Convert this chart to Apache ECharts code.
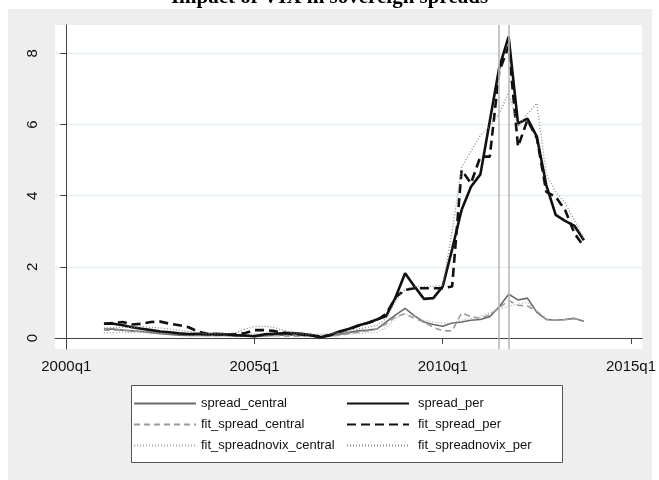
<!DOCTYPE html>
<html>
<head>
<meta charset="utf-8">
<script src="https://cdn.jsdelivr.net/npm/echarts@6/dist/echarts.min.js"></script>
<style>
html,body{margin:0;padding:0;background:#fff;}
#chart{width:659px;height:480px;}
</style>
</head>
<body>
<div id="chart"></div>
<script>
// ---- data ----
const quarters = ['2001q1','2001q2','2001q3','2001q4','2002q1','2002q2','2002q3','2002q4',
  '2003q1','2003q2','2003q3','2003q4','2004q1','2004q2','2004q3','2004q4',
  '2005q1','2005q2','2005q3','2005q4','2006q1','2006q2','2006q3','2006q4',
  '2007q1','2007q2','2007q3','2007q4','2008q1','2008q2','2008q3','2008q4',
  '2009q1','2009q2','2009q3','2009q4','2010q1','2010q2','2010q3','2010q4',
  '2011q1','2011q2','2011q3','2011q4','2012q1','2012q2','2012q3','2012q4',
  '2013q1','2013q2','2013q3','2013q4'];

const spread_central = [0.25,0.25,0.22,0.20,0.18,0.15,0.12,0.10,0.08,0.07,0.08,0.07,0.08,0.07,0.06,0.05,
  0.04,0.06,0.07,0.08,0.08,0.07,0.05,0.03,0.06,0.10,0.15,0.20,0.22,0.25,0.45,0.65,
  0.83,0.62,0.45,0.38,0.33,0.42,0.45,0.50,0.52,0.60,0.88,1.23,1.07,1.12,0.72,0.52,
  0.50,0.52,0.55,0.47];
const spread_per = [0.40,0.40,0.36,0.30,0.26,0.22,0.18,0.16,0.13,0.11,0.12,0.10,0.12,0.10,0.08,0.07,
  0.05,0.10,0.12,0.13,0.14,0.12,0.08,0.02,0.08,0.18,0.25,0.35,0.42,0.52,0.62,1.15,
  1.82,1.45,1.10,1.12,1.45,2.50,3.60,4.25,4.60,6.10,7.60,8.47,6.03,6.17,5.66,4.30,
  3.46,3.29,3.15,2.75];
const fit_spread_central = [0.22,0.22,0.22,0.20,0.18,0.18,0.16,0.14,0.12,0.10,0.08,0.07,0.07,0.07,0.06,0.06,
  0.08,0.08,0.07,0.06,0.05,0.05,0.04,0.03,0.05,0.08,0.12,0.16,0.20,0.25,0.40,0.60,
  0.68,0.55,0.45,0.30,0.20,0.20,0.70,0.60,0.55,0.65,0.85,1.05,0.92,0.90,0.75,0.52,
  0.50,0.52,0.55,0.47];
const fit_spread_per = [0.40,0.42,0.45,0.38,0.40,0.45,0.46,0.40,0.36,0.30,0.18,0.12,0.10,0.10,0.10,0.14,
  0.22,0.22,0.20,0.15,0.12,0.10,0.08,0.04,0.08,0.16,0.24,0.34,0.42,0.50,0.68,1.15,
  1.35,1.40,1.40,1.40,1.40,1.45,4.72,4.35,5.10,5.10,7.50,8.20,5.38,6.13,5.62,4.11,
  3.97,3.60,2.94,2.57];
const fit_spreadnovix_central = [0.15,0.15,0.16,0.15,0.15,0.14,0.13,0.12,0.10,0.09,0.08,0.07,0.07,0.07,0.08,0.10,
  0.12,0.12,0.11,0.09,0.07,0.06,0.05,0.05,0.06,0.08,0.10,0.12,0.14,0.15,0.30,0.55,
  0.68,0.60,0.50,0.45,0.42,0.42,0.50,0.55,0.60,0.70,0.80,0.90,0.95,1.00,0.75,0.55,
  0.50,0.50,0.55,0.45];
const fit_spreadnovix_per = [0.28,0.30,0.30,0.30,0.32,0.30,0.28,0.25,0.22,0.18,0.15,0.12,0.12,0.12,0.15,0.25,
  0.32,0.33,0.30,0.22,0.15,0.12,0.10,0.10,0.12,0.15,0.20,0.25,0.30,0.35,0.55,1.05,
  1.38,1.45,1.45,1.45,1.48,3.00,4.80,5.25,5.70,5.95,6.30,6.90,5.94,6.30,6.60,4.60,
  4.10,3.80,3.30,2.80];

const xTickLabels = ['2000q1','2005q1','2010q1','2015q1'];
const yTickValues = [0, 2, 4, 6, 8];
const refQuarters = ['2011q3', '2011q4'];
const titleText = 'Impact of VIX in sovereign spreads';

// ---- helpers ----
function qIndex(s) { const y = parseInt(s.slice(0, 4), 10); const q = parseInt(s.slice(5), 10); return (y - 2000) * 4 + (q - 1); }
function qLabel(v) { const i = Math.round(v); return (2000 + Math.floor(i / 4)) + 'q' + (i % 4 + 1); }
function pairs(vals) { return quarters.map((q, i) => [qIndex(q), vals[i]]); }

const FONT = 'Liberation Sans, Arial, sans-serif';

function mkSeries(name, vals, color, width, type, z) {
  return {
    name: name, type: 'line', data: pairs(vals), symbol: 'none', showSymbol: false, z: z,
    lineStyle: { color: color, width: width, type: type, cap: 'butt' },
    itemStyle: { color: color },
    emphasis: { disabled: true }, animation: false
  };
}

const series = [
  mkSeries('spread_central', spread_central, '#6a6a6a', 1.6, 'solid', 3),
  mkSeries('fit_spread_central', fit_spread_central, '#9a9a9a', 1.6, [6, 4], 3),
  mkSeries('fit_spreadnovix_central', fit_spreadnovix_central, '#a8a8a8', 1.2, [1, 2], 3),
  mkSeries('spread_per', spread_per, '#111111', 2.6, 'solid', 4),
  mkSeries('fit_spread_per', fit_spread_per, '#111111', 2.6, [9, 5], 4),
  mkSeries('fit_spreadnovix_per', fit_spreadnovix_per, '#8a8a8a', 1.3, [1, 2], 4)
];
series[0].markLine = {
  silent: true, symbol: ['none', 'none'], label: { show: false },
  lineStyle: { color: '#b8b8b8', width: 1.6, type: 'solid' },
  data: refQuarters.map(q => ({ xAxis: qIndex(q) })),
  animation: false
};

const legendText = { fontFamily: FONT, fontSize: 13, color: '#111' };
const legendCommon = {
  orient: 'vertical', top: 397, itemWidth: 62, itemHeight: 14, itemGap: 8, padding: 0,
  selectedMode: false, itemStyle: { opacity: 0, borderWidth: 0 }
};

const option = {
  animation: false,
  backgroundColor: '#ffffff',
  title: {
    text: titleText, left: 'center', top: -18,
    textStyle: { fontFamily: 'Liberation Serif, Times New Roman, serif', fontWeight: 'bold', fontSize: 21, color: '#000' }
  },
  graphic: [
    { type: 'rect', z: -100, shape: { x: 8, y: 9, width: 644, height: 471 }, style: { fill: '#eeeeee' } },
    { type: 'rect', z: 2, shape: { x: 131.5, y: 385.5, width: 431, height: 77 }, style: { fill: '#ffffff', stroke: '#555555', lineWidth: 1 } }
  ],
  grid: { left: 55, right: 14, top: 25, bottom: 131, show: true, backgroundColor: '#ffffff', borderWidth: 0 },
  xAxis: {
    type: 'value', min: -1.2, max: 61.2,
    axisLine: { show: true, lineStyle: { color: '#444', width: 1 } },
    axisTick: { show: true, length: 6, lineStyle: { color: '#444' }, customValues: xTickLabels.map(qIndex) },
    axisLabel: { customValues: xTickLabels.map(qIndex), formatter: v => qLabel(v), margin: 10,
      fontFamily: FONT, fontSize: 15, color: '#111' },
    splitLine: { show: false }
  },
  yAxis: {
    type: 'value', min: -0.31, max: 8.80,
    axisLine: { show: true, lineStyle: { color: '#444', width: 1 } },
    axisTick: { show: true, length: 6, lineStyle: { color: '#444' }, customValues: yTickValues },
    axisLabel: { customValues: yTickValues, rotate: 90, margin: 15,
      fontFamily: FONT, fontSize: 15, color: '#111' },
    splitLine: { show: true, lineStyle: { color: '#e4eeee', width: 1.3 } }
  },
  legend: [
    Object.assign({}, legendCommon, {
      data: ['spread_central', 'fit_spread_central', 'fit_spreadnovix_central'],
      left: 133, textStyle: legendText }),
    Object.assign({}, legendCommon, {
      data: ['spread_per', 'fit_spread_per', 'fit_spreadnovix_per'],
      left: 346, textStyle: Object.assign({}, legendText, { padding: [0, 0, 0, 4] }) })
  ],
  series: series
};

const chart = echarts.init(document.getElementById('chart'), null, { renderer: 'canvas' });
chart.setOption(option);
</script>
</body>
</html>
